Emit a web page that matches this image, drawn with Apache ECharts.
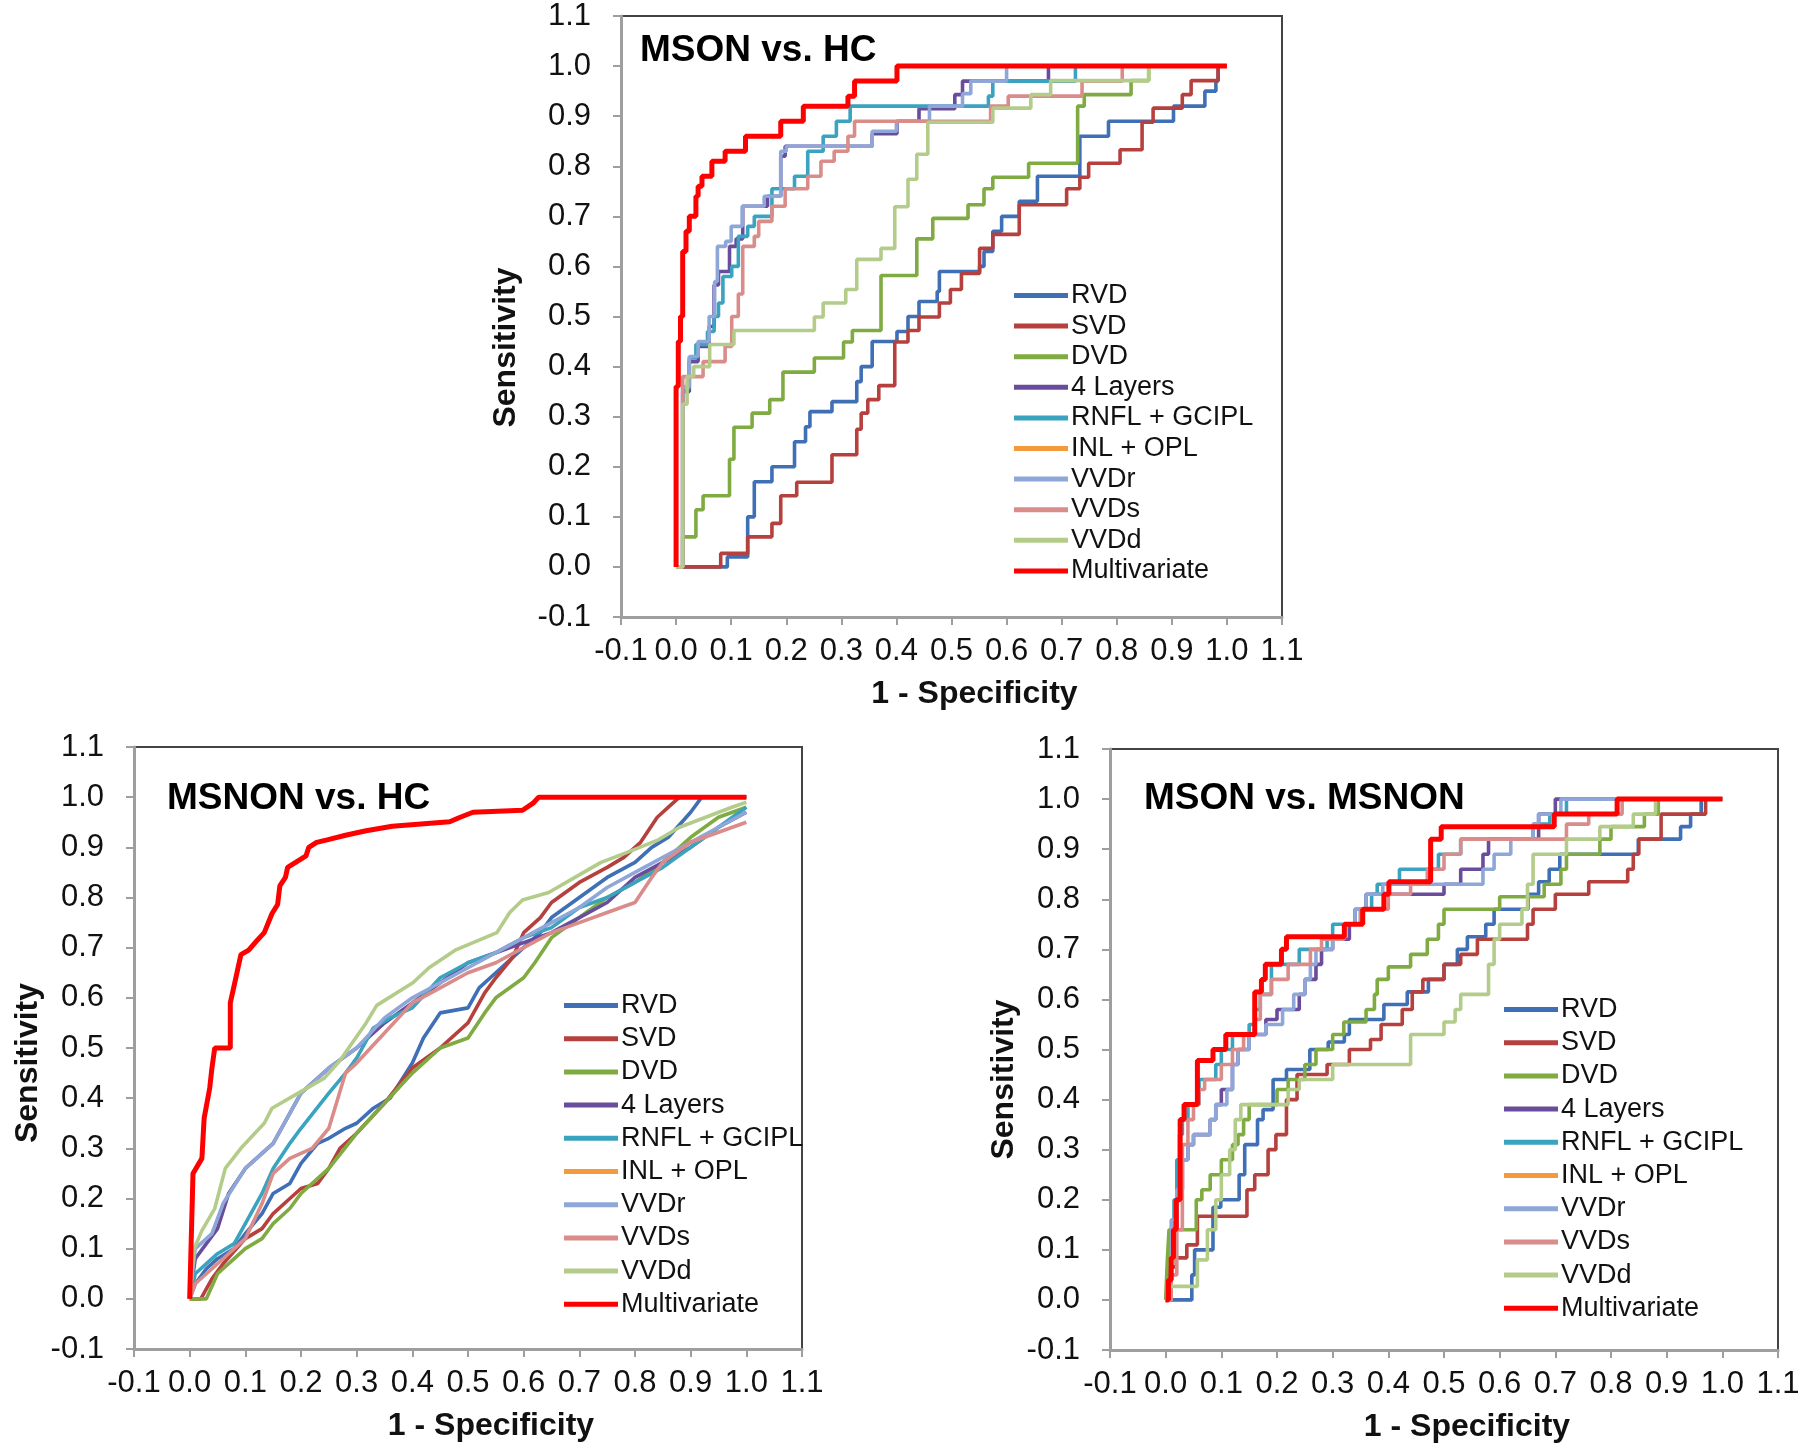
<!DOCTYPE html>
<html>
<head>
<meta charset="utf-8">
<title>ROC curves</title>
<script src="https://cdn.jsdelivr.net/npm/echarts@6/dist/echarts.min.js"></script>
<style>
  html, body { margin: 0; padding: 0; background: #fff; }
  #chart { width: 1806px; height: 1450px; }
</style>
</head>
<body>
<div id="chart"></div>
<script>
// legend order / series names
const seriesNames = ['RVD', 'SVD', 'DVD', '4 Layers', 'RNFL + GCIPL', 'INL + OPL', 'VVDr', 'VVDs', 'VVDd', 'Multivariate']
const seriesColors = ['#3f6fb5', '#b5403d', '#7fab42', '#6a4c9c', '#3aa3bf', '#f39a3c', '#8ea7d8', '#d98c8a', '#b3cc8a', '#ff0000']
const panelTitles = ['MSON vs. HC', 'MSNON vs. HC', 'MSON vs. MSNON']
const axisTicks = [-0.1, 0.0, 0.1, 0.2, 0.3, 0.4, 0.5, 0.6, 0.7, 0.8, 0.9, 1.0, 1.1]

// MSON vs. HC  [1 - specificity, sensitivity]
const hcRVD = [[0,0],[0.093,0.02],[0.13,0.10],[0.142,0.17],[0.174,0.20],[0.215,0.25],[0.235,0.28],[0.243,0.31],[0.283,0.33],[0.328,0.37],[0.336,0.40],[0.356,0.45],[0.401,0.47],[0.421,0.50],[0.441,0.53],[0.474,0.55],[0.478,0.59],[0.551,0.60],[0.559,0.63],[0.575,0.67],[0.591,0.70],[0.623,0.73],[0.656,0.78],[0.733,0.86],[0.785,0.89],[0.903,0.92],[0.96,0.95],[0.98,0.97],[0.984,1.0],[1,1]]
const hcSVD = [[0,0],[0.081,0.027],[0.13,0.06],[0.174,0.087],[0.19,0.142],[0.219,0.169],[0.283,0.224],[0.328,0.275],[0.336,0.307],[0.348,0.334],[0.368,0.362],[0.397,0.449],[0.421,0.472],[0.441,0.499],[0.478,0.527],[0.498,0.554],[0.518,0.586],[0.551,0.636],[0.575,0.664],[0.623,0.723],[0.709,0.755],[0.733,0.778],[0.749,0.806],[0.806,0.833],[0.846,0.888],[0.866,0.916],[0.919,0.943],[0.935,0.971],[0.984,1.0],[1,1]]
const hcDVD = [[0,0],[0.012,0.06],[0.036,0.114],[0.049,0.142],[0.097,0.215],[0.105,0.279],[0.138,0.307],[0.17,0.334],[0.194,0.389],[0.251,0.417],[0.304,0.449],[0.32,0.472],[0.372,0.582],[0.437,0.655],[0.466,0.696],[0.53,0.723],[0.559,0.755],[0.575,0.778],[0.64,0.806],[0.729,0.92],[0.741,0.943],[0.826,0.971],[0.858,1.0],[1,1]]
const hc4Layers = [[0,0],[0.012,0.35],[0.024,0.41],[0.04,0.44],[0.06,0.48],[0.069,0.563],[0.077,0.59],[0.097,0.64],[0.109,0.655],[0.121,0.72],[0.166,0.74],[0.19,0.82],[0.198,0.84],[0.356,0.865],[0.401,0.89],[0.441,0.915],[0.506,0.943],[0.52,0.97],[0.676,1.0],[1,1]]
const hcRNFL = [[0,0],[0.012,0.357],[0.024,0.417],[0.036,0.444],[0.057,0.47],[0.069,0.50],[0.077,0.527],[0.085,0.58],[0.101,0.60],[0.113,0.66],[0.13,0.68],[0.142,0.70],[0.174,0.755],[0.215,0.78],[0.239,0.83],[0.267,0.86],[0.291,0.89],[0.316,0.92],[0.567,0.94],[0.575,0.97],[0.725,1.0],[1,1]]
const hcINL = []
const hcVVDr = [[0,0],[0.012,0.36],[0.024,0.42],[0.04,0.45],[0.06,0.50],[0.07,0.57],[0.075,0.64],[0.09,0.65],[0.1,0.68],[0.12,0.72],[0.16,0.74],[0.19,0.83],[0.2,0.84],[0.356,0.87],[0.40,0.89],[0.46,0.92],[0.52,0.945],[0.535,0.97],[0.60,1.0],[1,1]]
const hcVVDs = [[0,0],[0.012,0.38],[0.049,0.41],[0.089,0.44],[0.101,0.50],[0.113,0.545],[0.121,0.64],[0.142,0.66],[0.15,0.69],[0.174,0.72],[0.198,0.755],[0.239,0.78],[0.263,0.81],[0.287,0.83],[0.312,0.86],[0.324,0.89],[0.571,0.92],[0.603,0.94],[0.737,0.97],[0.81,1.0],[1,1]]
const hcVVDd = [[0,0],[0.012,0.325],[0.02,0.38],[0.032,0.40],[0.061,0.444],[0.105,0.472],[0.251,0.499],[0.267,0.527],[0.308,0.554],[0.328,0.614],[0.372,0.636],[0.397,0.719],[0.421,0.774],[0.437,0.824],[0.457,0.888],[0.575,0.916],[0.644,0.943],[0.68,0.971],[0.858,1.0],[1,1]]
const hcMulti = [[0,0],[0,0.36],[0.004,0.45],[0.008,0.50],[0.012,0.63],[0.018,0.67],[0.024,0.70],[0.036,0.74],[0.04,0.76],[0.047,0.78],[0.065,0.81],[0.089,0.83],[0.126,0.86],[0.19,0.89],[0.231,0.92],[0.312,0.94],[0.324,0.97],[0.401,1.0],[1,1]]

// MSNON vs. HC
const nhRVD = [[0,0],[0.01,0.03],[0.03,0.06],[0.05,0.08],[0.08,0.1],[0.1,0.13],[0.13,0.17],[0.15,0.21],[0.18,0.23],[0.2,0.27],[0.23,0.31],[0.25,0.32],[0.28,0.34],[0.3,0.35],[0.33,0.38],[0.36,0.4],[0.4,0.47],[0.42,0.52],[0.45,0.57],[0.5,0.58],[0.52,0.62],[0.55,0.65],[0.58,0.68],[0.6,0.7],[0.63,0.73],[0.65,0.76],[0.7,0.8],[0.75,0.84],[0.8,0.87],[0.83,0.9],[0.86,0.92],[0.9,0.97],[0.92,1.0],[1,1]]
const nhSVD = [[0,0],[0.02,0.0],[0.04,0.04],[0.06,0.07],[0.1,0.12],[0.13,0.14],[0.15,0.17],[0.18,0.2],[0.2,0.22],[0.23,0.23],[0.25,0.26],[0.27,0.3],[0.3,0.33],[0.35,0.39],[0.4,0.46],[0.45,0.5],[0.5,0.55],[0.53,0.61],[0.55,0.64],[0.58,0.68],[0.6,0.73],[0.63,0.76],[0.65,0.79],[0.7,0.83],[0.75,0.86],[0.78,0.88],[0.81,0.91],[0.84,0.96],[0.86,0.98],[0.88,1.0],[1,1]]
const nhDVD = [[0,0],[0.03,0.0],[0.05,0.05],[0.08,0.08],[0.1,0.1],[0.13,0.12],[0.15,0.15],[0.18,0.18],[0.2,0.21],[0.25,0.26],[0.3,0.33],[0.35,0.39],[0.4,0.45],[0.45,0.5],[0.5,0.52],[0.53,0.57],[0.55,0.6],[0.6,0.64],[0.62,0.67],[0.65,0.72],[0.7,0.76],[0.75,0.8],[0.8,0.83],[0.85,0.87],[0.9,0.92],[0.95,0.96],[1,0.98]]
const nh4Layers = [[0,0],[0.01,0.08],[0.03,0.11],[0.05,0.14],[0.07,0.21],[0.1,0.26],[0.13,0.29],[0.15,0.31],[0.2,0.41],[0.25,0.46],[0.3,0.5],[0.35,0.55],[0.4,0.59],[0.45,0.63],[0.5,0.67],[0.55,0.69],[0.6,0.71],[0.65,0.73],[0.7,0.76],[0.75,0.79],[0.8,0.84],[0.85,0.87],[0.9,0.9],[0.95,0.94],[1,0.97]]
const nhRNFL = [[0,0],[0.01,0.05],[0.05,0.09],[0.08,0.11],[0.1,0.15],[0.13,0.21],[0.15,0.26],[0.18,0.31],[0.2,0.34],[0.25,0.41],[0.28,0.45],[0.3,0.48],[0.33,0.54],[0.36,0.56],[0.4,0.58],[0.45,0.64],[0.5,0.67],[0.55,0.69],[0.6,0.72],[0.65,0.74],[0.7,0.78],[0.75,0.8],[0.8,0.83],[0.85,0.86],[0.9,0.9],[0.95,0.94],[1,0.98]]
const nhINL = []
const nhVVDr = [[0,0],[0.01,0.1],[0.04,0.13],[0.06,0.19],[0.1,0.26],[0.15,0.31],[0.2,0.41],[0.25,0.46],[0.3,0.5],[0.35,0.56],[0.4,0.6],[0.45,0.63],[0.5,0.66],[0.55,0.69],[0.6,0.72],[0.65,0.75],[0.7,0.78],[0.75,0.82],[0.8,0.85],[0.85,0.88],[0.9,0.91],[0.95,0.94],[1,0.97]]
const nhVVDs = [[0,0],[0.01,0.03],[0.05,0.07],[0.08,0.1],[0.1,0.12],[0.13,0.19],[0.15,0.25],[0.18,0.28],[0.22,0.3],[0.25,0.34],[0.28,0.45],[0.3,0.47],[0.35,0.53],[0.4,0.59],[0.45,0.62],[0.5,0.65],[0.55,0.67],[0.6,0.7],[0.65,0.73],[0.7,0.75],[0.75,0.77],[0.8,0.79],[0.83,0.84],[0.85,0.87],[0.9,0.91],[0.95,0.93],[1,0.95]]
const nhVVDd = [[0,0],[0.008,0.10],[0.022,0.136],[0.045,0.18],[0.064,0.26],[0.092,0.30],[0.134,0.35],[0.148,0.38],[0.195,0.41],[0.242,0.44],[0.27,0.475],[0.317,0.55],[0.336,0.585],[0.401,0.63],[0.43,0.66],[0.477,0.695],[0.552,0.73],[0.575,0.77],[0.598,0.795],[0.645,0.81],[0.692,0.84],[0.739,0.87],[0.786,0.89],[0.842,0.915],[0.88,0.94],[0.927,0.96],[0.974,0.98],[1,0.99]]
const nhMulti = [[0,0],[0.006,0.25],[0.022,0.28],[0.026,0.36],[0.036,0.42],[0.04,0.46],[0.045,0.50],[0.073,0.50],[0.073,0.59],[0.083,0.64],[0.092,0.686],[0.106,0.695],[0.12,0.713],[0.134,0.73],[0.148,0.768],[0.158,0.786],[0.162,0.823],[0.172,0.84],[0.176,0.86],[0.209,0.883],[0.214,0.90],[0.228,0.91],[0.247,0.915],[0.28,0.924],[0.317,0.933],[0.364,0.942],[0.467,0.951],[0.486,0.96],[0.509,0.97],[0.598,0.974],[0.617,0.988],[0.627,1.0],[1,1]]

// MSON vs. MSNON
const mnRVD = [[0,0],[0.047,0.05],[0.052,0.10],[0.085,0.185],[0.099,0.2],[0.132,0.25],[0.142,0.31],[0.165,0.36],[0.175,0.38],[0.193,0.44],[0.217,0.46],[0.259,0.50],[0.292,0.515],[0.321,0.53],[0.33,0.56],[0.392,0.59],[0.434,0.615],[0.472,0.64],[0.5,0.67],[0.524,0.70],[0.542,0.725],[0.575,0.75],[0.59,0.78],[0.651,0.81],[0.67,0.835],[0.689,0.86],[0.708,0.89],[0.849,0.92],[0.925,0.945],[0.943,0.97],[0.962,1.0],[1,1]]
const mnSVD = [[0,0],[0.005,0.066],[0.019,0.084],[0.038,0.11],[0.057,0.167],[0.146,0.22],[0.16,0.25],[0.184,0.30],[0.198,0.33],[0.217,0.40],[0.236,0.45],[0.29,0.47],[0.33,0.50],[0.368,0.52],[0.387,0.55],[0.425,0.58],[0.443,0.615],[0.462,0.64],[0.5,0.67],[0.53,0.69],[0.56,0.72],[0.65,0.75],[0.66,0.78],[0.70,0.81],[0.76,0.835],[0.83,0.86],[0.84,0.89],[0.85,0.92],[0.89,0.97],[0.97,1.0],[1,1]]
const mnDVD = [[0,0],[0.003,0.08],[0.006,0.14],[0.055,0.2],[0.065,0.22],[0.08,0.25],[0.1,0.28],[0.12,0.31],[0.13,0.33],[0.14,0.36],[0.15,0.39],[0.2,0.42],[0.22,0.44],[0.25,0.47],[0.27,0.5],[0.3,0.53],[0.32,0.555],[0.36,0.58],[0.375,0.61],[0.38,0.64],[0.4,0.665],[0.44,0.69],[0.47,0.72],[0.49,0.75],[0.5,0.78],[0.6,0.805],[0.68,0.83],[0.71,0.86],[0.72,0.89],[0.78,0.92],[0.8,0.945],[0.86,0.97],[0.885,1.0],[1,1]]
const mn4Layers = [[0,0],[0.01,0.14],[0.02,0.22],[0.03,0.28],[0.04,0.31],[0.05,0.33],[0.08,0.36],[0.09,0.39],[0.1,0.42],[0.12,0.47],[0.13,0.5],[0.15,0.53],[0.18,0.56],[0.2,0.58],[0.24,0.61],[0.25,0.64],[0.27,0.67],[0.28,0.7],[0.3,0.72],[0.33,0.75],[0.34,0.78],[0.36,0.81],[0.5,0.83],[0.53,0.86],[0.57,0.89],[0.58,0.92],[0.67,0.97],[0.7,1.0],[1,1]]
const mnRNFL = [[0,0],[0.01,0.14],[0.015,0.2],[0.02,0.28],[0.025,0.33],[0.03,0.36],[0.04,0.39],[0.06,0.44],[0.09,0.47],[0.1,0.5],[0.12,0.53],[0.15,0.55],[0.16,0.58],[0.17,0.61],[0.19,0.67],[0.24,0.7],[0.29,0.72],[0.3,0.75],[0.35,0.78],[0.37,0.81],[0.38,0.83],[0.42,0.86],[0.49,0.89],[0.53,0.92],[0.66,0.95],[0.69,0.97],[0.72,1.0],[1,1]]
const mnINL = []
const mnVVDr = [[0,0],[0.01,0.16],[0.02,0.22],[0.03,0.28],[0.04,0.31],[0.05,0.33],[0.08,0.36],[0.09,0.39],[0.11,0.42],[0.12,0.47],[0.13,0.5],[0.15,0.53],[0.18,0.55],[0.21,0.58],[0.23,0.61],[0.25,0.64],[0.26,0.67],[0.27,0.7],[0.3,0.72],[0.32,0.75],[0.34,0.78],[0.36,0.81],[0.39,0.83],[0.57,0.86],[0.59,0.89],[0.62,0.92],[0.66,0.95],[0.67,0.97],[0.71,1.0],[1,1]]
const mnVVDs = [[0,0],[0.01,0.05],[0.02,0.14],[0.03,0.31],[0.04,0.36],[0.05,0.39],[0.06,0.42],[0.07,0.44],[0.1,0.47],[0.12,0.5],[0.14,0.53],[0.16,0.56],[0.17,0.61],[0.19,0.64],[0.22,0.67],[0.26,0.7],[0.28,0.72],[0.32,0.75],[0.35,0.78],[0.4,0.81],[0.44,0.83],[0.47,0.86],[0.5,0.89],[0.53,0.92],[0.72,0.95],[0.76,0.97],[0.82,1.0],[1,1]]
const mnVVDd = [[0,0],[0.005,0.027],[0.057,0.08],[0.075,0.14],[0.09,0.2],[0.1,0.25],[0.115,0.3],[0.125,0.36],[0.135,0.39],[0.22,0.42],[0.24,0.44],[0.3,0.47],[0.44,0.53],[0.5,0.555],[0.52,0.58],[0.53,0.61],[0.58,0.67],[0.59,0.72],[0.6,0.75],[0.64,0.78],[0.65,0.83],[0.66,0.89],[0.72,0.92],[0.78,0.945],[0.84,0.97],[0.88,1.0],[1,1]]
const mnMulti = [[0,0],[0.005,0.04],[0.01,0.084],[0.014,0.14],[0.019,0.2],[0.026,0.36],[0.033,0.39],[0.057,0.478],[0.085,0.50],[0.108,0.53],[0.16,0.615],[0.172,0.64],[0.179,0.67],[0.208,0.70],[0.217,0.725],[0.321,0.75],[0.354,0.78],[0.392,0.81],[0.401,0.835],[0.476,0.92],[0.495,0.945],[0.698,0.97],[0.811,1.0],[1,1]]

const panelData = [
  [hcRVD, hcSVD, hcDVD, hc4Layers, hcRNFL, hcINL, hcVVDr, hcVVDs, hcVVDd, hcMulti],
  [nhRVD, nhSVD, nhDVD, nh4Layers, nhRNFL, nhINL, nhVVDr, nhVVDs, nhVVDd, nhMulti],
  [mnRVD, mnSVD, mnDVD, mn4Layers, mnRNFL, mnINL, mnVVDr, mnVVDs, mnVVDd, mnMulti]
]

// 面板布局 (px)
const grids = [
  { left: 621, top: 16, width: 661, height: 601 },
  { left: 134, top: 747, width: 668, height: 602 },
  { left: 1110, top: 749, width: 668, height: 601 }
]
const titlePos = [{ left: 640, top: 32 }, { left: 167, top: 780 }, { left: 1144, top: 780 }]
const legendPos = [
  { left: 1014, top: 282, itemGap: 3.6 },
  { left: 564, top: 992, itemGap: 6.2 },
  { left: 1504, top: 996, itemGap: 6.2 }
]
const yNameGap = [99, 90, 90]
const yNameShift = [62, 30, 60]

const font = 'Liberation Sans, Arial, Helvetica, sans-serif'
const fmt = v => (Math.abs(v) < 1e-9 ? 0 : v).toFixed(1)

const chart = echarts.init(document.getElementById('chart'))

const axisBase = {
  type: 'value',
  min: axisTicks[0],
  max: axisTicks[axisTicks.length - 1],
  interval: 0.1,
  splitLine: { show: false },
  axisLine: { show: true, onZero: false, lineStyle: { color: '#9e9e9e', width: 3 } },
  axisTick: { show: true, length: 8, lineStyle: { color: '#9e9e9e', width: 2 } },
  axisLabel: { color: '#111', fontSize: 31, fontFamily: font, formatter: fmt },
  nameLocation: 'middle'
}

const xAxis = grids.map((g, i) => ({
  ...axisBase,
  gridIndex: i,
  axisLabel: { ...axisBase.axisLabel, margin: 19 },
  name: '1 - Specificity',
  nameGap: 61,
  nameTextStyle: { color: '#111', fontSize: 32, fontWeight: 'bold', fontFamily: font, padding: [0, 0, 0, 46] }
}))

const yAxis = grids.map((g, i) => ({
  ...axisBase,
  gridIndex: i,
  axisLabel: { ...axisBase.axisLabel, margin: 30 },
  name: 'Sensitivity',
  nameGap: yNameGap[i],
  nameTextStyle: { color: '#111', fontSize: 32, fontWeight: 'bold', fontFamily: font, padding: [0, yNameShift[i], 0, 0] }
}))

const series = []
panelData.forEach((rows, p) => {
  rows.forEach((data, k) => {
    series.push({
      name: seriesNames[k],
      type: 'line',
      xAxisIndex: p,
      yAxisIndex: p,
      data: data,
      step: p === 1 ? false : 'end',
      symbol: 'none',
      color: seriesColors[k],
      lineStyle: { width: k === 9 ? 5 : 3.6, color: seriesColors[k] },
      z: 2 + k
    })
  })
})

const option = {
  animation: false,
  backgroundColor: '#fff',
  title: panelTitles.map((t, i) => ({
    text: t,
    left: titlePos[i].left,
    top: titlePos[i].top,
    padding: 0,
    textStyle: { fontSize: 37, fontWeight: 'bold', color: '#000', fontFamily: font }
  })),
  legend: legendPos.map(l => ({
    data: seriesNames,
    orient: 'vertical',
    left: l.left,
    top: l.top,
    padding: 0,
    itemGap: l.itemGap,
    itemWidth: 54,
    itemHeight: 5,
    icon: 'rect',
    selectedMode: false,
    textStyle: { fontSize: 27, color: '#111', fontFamily: font, lineHeight: 27, padding: [0, 0, 0, -2] }
  })),
  grid: grids.map(g => ({ ...g, show: true, borderColor: '#444', borderWidth: 2, backgroundColor: '#fff' })),
  xAxis: xAxis,
  yAxis: yAxis,
  series: series
}

chart.setOption(option)
window.addEventListener('resize', () => chart.resize())
</script>
</body>
</html>
